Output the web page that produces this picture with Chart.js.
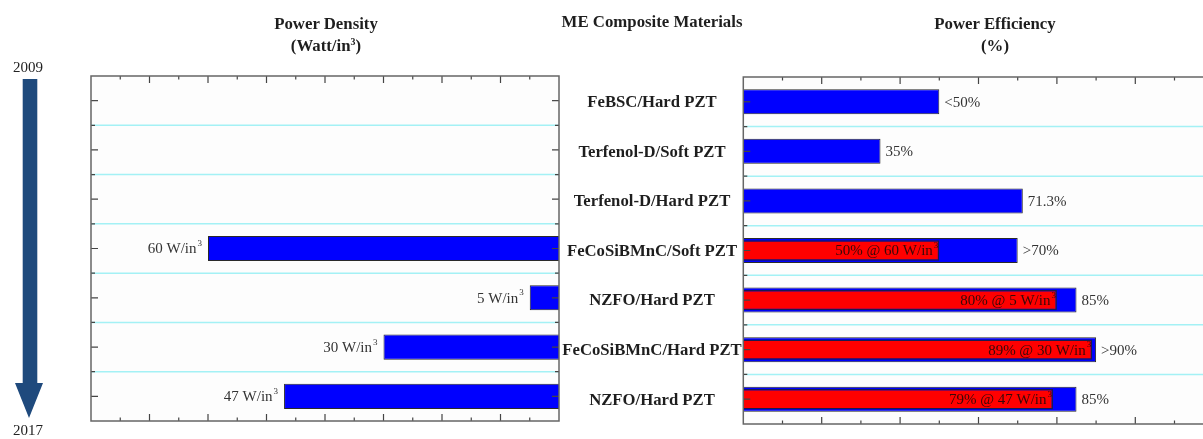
<!DOCTYPE html>
<html>
<head>
<meta charset="utf-8">
<script src="https://cdn.jsdelivr.net/npm/chart.js@4.4.0/dist/chart.umd.min.js"></script>
<style>
html, body { margin:0; padding:0; background:#fff; overflow:hidden; }
#wrap { position:relative; width:1203px; height:439px; overflow:hidden; }
canvas { position:absolute; top:0; }
#left { left:0; }
#right { left:560px; }
.t { position:absolute; font-family:'Liberation Serif', serif; font-weight:bold; font-size:16.8px; line-height:22px; color:#1e1e1e; text-align:center; transform:translateX(-50%); white-space:nowrap; }
.yr { position:absolute; font-family:'Liberation Serif', serif; font-size:15px; line-height:15px; color:#222; transform:translateX(-50%); }
sup { font-size:10px; vertical-align:6px; line-height:0; }
</style>
</head>
<body>
<div id="wrap">
  <canvas id="left" width="600" height="439"></canvas>
  <canvas id="right" width="700" height="439"></canvas>
  <div class="t" style="left:326px; top:13px;">Power Density<br>(Watt/in<sup>3</sup>)</div>
  <div class="t" style="left:652px; top:11px;">ME Composite Materials</div>
  <div class="t" style="left:995px; top:13px;">Power Efficiency<br>(%)</div>
  <div class="yr" style="left:28px; top:60px;">2009</div>
  <div class="yr" style="left:28px; top:423px;">2017</div>
  <svg style="position:absolute; left:0; top:0;" width="60" height="439">
    <polygon points="22.7,79 37.3,79 37.3,383 43,383 29,418 15,383 22.7,383" fill="#1f4a7d"/>
  </svg>
</div>
<script>
// data
const materials = ['FeBSC/Hard PZT', 'Terfenol-D/Soft PZT', 'Terfenol-D/Hard PZT', 'FeCoSiBMnC/Soft PZT', 'NZFO/Hard PZT', 'FeCoSiBMnC/Hard PZT', 'NZFO/Hard PZT'];
const powerDensity = [null, null, null, 60, 5, 30, 47];
const densityLabels = ['', '', '', '60 W/in³', '5 W/in³', '30 W/in³', '47 W/in³'];
const efficiency = [50, 35, 71.3, 70, 85, 90, 85];
const efficiencyLabels = ['<50%', '35%', '71.3%', '>70%', '85%', '>90%', '85%'];
const efficiencyAtDensity = [null, null, null, 50, 80, 89, 79];
const efficiencyAtDensityLabels = ['', '', '', '50% @ 60 W/in³', '80% @ 5 W/in³', '89% @ 30 W/in³', '79% @ 47 W/in³'];

const SERIF = '"Liberation Serif", serif';

// text with a raised little 3 for "in³"
function supText(ctx, text, x, y, align, size, color) {
    const hasSup = text.indexOf('³') >= 0;
    const main = text.replace('³', '');
    ctx.font = size + 'px ' + SERIF;
    const w1 = ctx.measureText(main).width;
    ctx.font = (size * 0.6) + 'px ' + SERIF;
    const w2 = hasSup ? ctx.measureText('3').width + 1 : 0;
    let x0 = x;
    if (align === 'right') x0 = x - w1 - w2;
    ctx.fillStyle = color;
    ctx.textAlign = 'left';
    ctx.textBaseline = 'middle';
    ctx.font = size + 'px ' + SERIF;
    ctx.fillText(main, x0, y);
    if (hasSup) {
        ctx.font = (size * 0.6) + 'px ' + SERIF;
        ctx.fillText('3', x0 + w1 + 1, y - size * 0.38);
    }
}

//FRAME, TICKS, CYAN LINES
const framePlugin = {
    id: 'frame',
    beforeDatasetsDraw(chart, args, o) {
        const {ctx, chartArea: a, scales: {y}} = chart;
        ctx.save();
        ctx.fillStyle = '#fdfdfd';
        ctx.fillRect(a.left, a.top, a.right - a.left, a.bottom - a.top);
        ctx.strokeStyle = '#a4f1f5';
        ctx.lineWidth = 1.5;
        for (let i = 1; i < materials.length; i++) {
            const yy = (y.getPixelForValue(i - 1) + y.getPixelForValue(i)) / 2;
            ctx.beginPath();
            ctx.moveTo(a.left, yy);
            ctx.lineTo(a.right, yy);
            ctx.stroke();
        }
        ctx.restore();
    },
    afterDatasetsDraw(chart, args, o) {
        const {ctx, chartArea: a, scales: {x, y}} = chart;
        ctx.save();
        ctx.strokeStyle = '#444';
        ctx.lineWidth = 1.2;
        for (let v = o.min + o.minor; v < o.max; v += o.minor) {
            const px = x.getPixelForValue(v);
            const len = v % o.major === 0 ? 7 : 3.5;
            ctx.beginPath();
            ctx.moveTo(px, a.top); ctx.lineTo(px, a.top + len);
            ctx.moveTo(px, a.bottom); ctx.lineTo(px, a.bottom - len);
            ctx.stroke();
        }
        const sides = o.rightBorder ? [a.left, a.right] : [a.left];
        for (let i = 0; i < materials.length; i++) {
            const c = y.getPixelForValue(i);
            const b = (i > 0) ? (y.getPixelForValue(i - 1) + c) / 2 : null;
            sides.forEach(function(sx) {
                const dir = sx === a.left ? 1 : -1;
                ctx.beginPath();
                ctx.moveTo(sx, c); ctx.lineTo(sx + dir * 7, c);
                if (b !== null) { ctx.moveTo(sx, b); ctx.lineTo(sx + dir * 4, b); }
                ctx.stroke();
            });
        }
        ctx.strokeStyle = '#666';
        ctx.lineWidth = 1.5;
        ctx.beginPath();
        if (o.rightBorder) {
            ctx.rect(a.left, a.top, a.right - a.left, a.bottom - a.top);
        } else {
            ctx.moveTo(a.right + 20, a.top); ctx.lineTo(a.left, a.top);
            ctx.lineTo(a.left, a.bottom); ctx.lineTo(a.right + 20, a.bottom);
        }
        ctx.stroke();
        ctx.restore();
    }
};

//VALUE LABELS
const leftLabels = {
    id: 'leftLabels',
    afterDatasetsDraw(chart) {
        const ctx = chart.ctx;
        chart.getDatasetMeta(0).data.forEach(function(el, i) {
            if (!densityLabels[i]) return;
            supText(ctx, densityLabels[i], el.x - 6, el.y + 1, 'right', 15, '#333');
        });
    }
};

const rightLabels = {
    id: 'rightLabels',
    afterDatasetsDraw(chart) {
        const ctx = chart.ctx;
        const blue = chart.getDatasetMeta(0).data;
        const red = chart.getDatasetMeta(1).data;
        blue.forEach(function(el, i) {
            supText(ctx, efficiencyLabels[i], el.x + 5, el.y + 1, 'left', 15, '#333');
        });
        red.forEach(function(el, i) {
            if (!efficiencyAtDensityLabels[i]) return;
            supText(ctx, efficiencyAtDensityLabels[i], el.x - 1, el.y + 1, 'right', 15, '#3a0808');
        });
        // material names in the gap between the charts
        ctx.save();
        ctx.font = 'bold 16.7px ' + SERIF;
        ctx.fillStyle = '#1e1e1e';
        ctx.textAlign = 'center';
        ctx.textBaseline = 'middle';
        const y = chart.scales.y;
        materials.forEach(function(m, i) {
            ctx.fillText(m, 92, y.getPixelForValue(i) + 1);
        });
        ctx.restore();
    }
};

new Chart(document.getElementById('left').getContext('2d'), {
    type: 'bar',
    data: {
        labels: materials,
        datasets: [{
            data: powerDensity,
            backgroundColor: '#0000ff',
            borderColor: '#2a2a2a',
            borderWidth: 1,
            barPercentage: 0.51,
            categoryPercentage: 1
        }]
    },
    options: {
        indexAxis: 'y',
        responsive: false,
        animation: false,
        layout: { padding: { left: 91, right: 41, top: 76, bottom: 18 } },
        scales: {
            x: { display: false, reverse: true, min: 0, max: 80 },
            y: { display: false }
        },
        plugins: {
            legend: { display: false },
            tooltip: { enabled: false },
            frame: { min: 0, max: 80, minor: 5, major: 10, rightBorder: true }
        }
    },
    plugins: [framePlugin, leftLabels]
});

new Chart(document.getElementById('right').getContext('2d'), {
    type: 'bar',
    data: {
        labels: materials,
        datasets: [{
            data: efficiency,
            backgroundColor: '#0000ff',
            borderColor: '#2a2a2a',
            borderWidth: 1,
            barPercentage: 0.505,
            categoryPercentage: 1,
            grouped: false,
            order: 1
        }, {
            data: efficiencyAtDensity,
            backgroundColor: '#ff0000',
            borderColor: '#1a1a50',
            borderWidth: 1.5,
            barPercentage: 0.41,
            categoryPercentage: 1,
            grouped: false,
            order: 0
        }]
    },
    options: {
        indexAxis: 'y',
        responsive: false,
        animation: false,
        layout: { padding: { left: 183.3, right: 46.3, top: 77, bottom: 15 } },
        scales: {
            x: { display: false, min: 0, max: 120 },
            y: { display: false }
        },
        plugins: {
            legend: { display: false },
            tooltip: { enabled: false },
            frame: { min: 0, max: 120, minor: 10, major: 20, rightBorder: false }
        }
    },
    plugins: [framePlugin, rightLabels]
});
</script>
</body>
</html>
